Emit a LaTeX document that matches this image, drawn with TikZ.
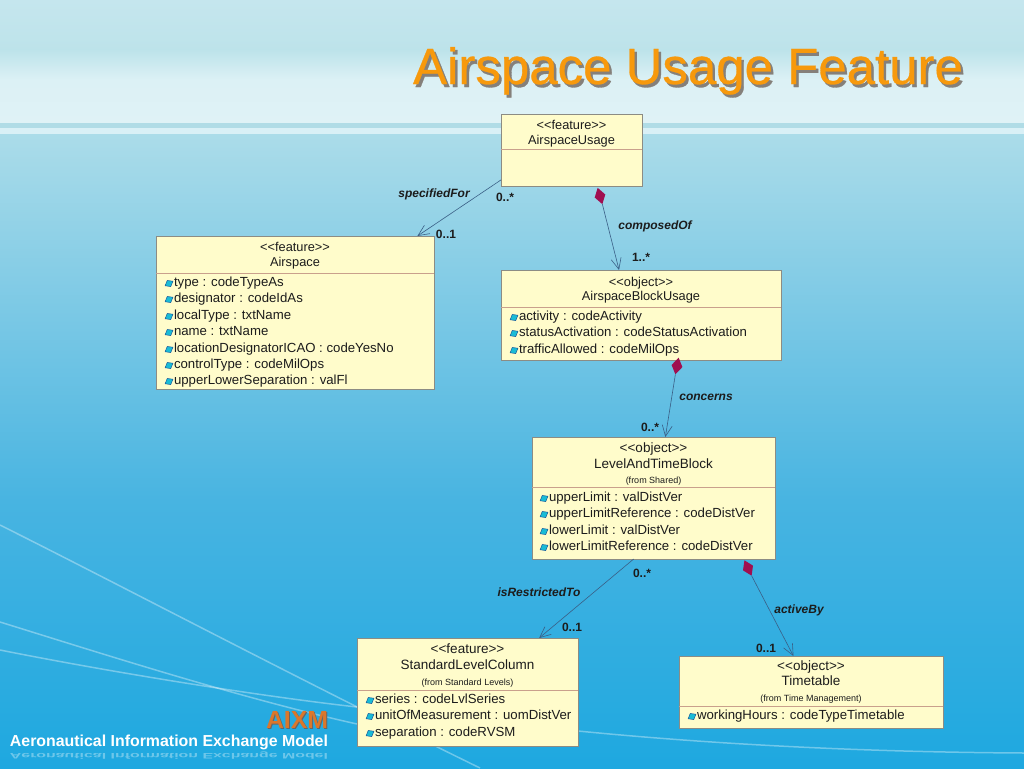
\documentclass[tikz,border=0pt]{standalone}
\usepackage{fontspec}
\setmainfont{Liberation Sans}
\usetikzlibrary{arrows.meta,shapes.geometric}
\definecolor{boxfill}{HTML}{FFFCCB}
\definecolor{boxline}{HTML}{8C8C84}
\definecolor{sepline}{HTML}{C9A08C}
\definecolor{linkline}{HTML}{3A5F86}
\definecolor{wine}{HTML}{A00F50}
\definecolor{txt}{HTML}{1C1C1C}
\definecolor{titleorange}{HTML}{F7990C}
\definecolor{titleshadow}{HTML}{85807A}
\definecolor{aixmorange}{HTML}{DB772B}
\definecolor{iconblue}{HTML}{1A5A9A}
\definecolor{iconfill}{HTML}{19BCD6}
\definecolor{skyA}{HTML}{C5E6EE}
\definecolor{skyB}{HTML}{BDE3EA}
\definecolor{skyC}{HTML}{DCF1F5}
\definecolor{skyD}{HTML}{DFF2F6}
\definecolor{bandA}{HTML}{B0DCE6}
\definecolor{bandB}{HTML}{D9F0F6}
\definecolor{seaA}{HTML}{ABDCE9}
\definecolor{seaB}{HTML}{48B4E1}
\definecolor{seaC}{HTML}{1EA8E0}
\newcommand{\sized}[1]{\fontsize{#1}{#1}\selectfont}
\begin{document}
\begin{tikzpicture}[
    x=1pt, y=-1pt,
    every node/.append style = {inner sep=0pt, outer sep=0pt, text=txt},
    class box/.style = {draw=boxline, fill=boxfill, line width=0.8pt},
    head lbl/.style = {font=\sized{12.8}, anchor=base},
    wide head/.style = {font=\sized{13.5}, anchor=base},
    from lbl/.style = {font=\sized{9}, anchor=base},
    attr lbl/.style = {font=\sized{13.2}, anchor=base west},
    attr icon/.style = {draw=iconblue, fill=iconfill, diamond, aspect=1.3, rotate=30, minimum width=9pt, minimum height=7pt, line width=0.5pt},
    sep/.style = {draw=sepline, line width=0.8pt},
    link/.style = {draw=linkline, line width=0.6pt, -{Straight Barb[length=11pt,width=10pt]}},
    whole/.style = {diamond, fill=wine, minimum width=11pt, minimum height=17pt},
    role lbl/.style = {font=\sized{12}\bfseries\itshape},
    mult lbl/.style = {font=\sized{12}\bfseries},
    title lbl/.style = {font=\sized{51}\addfontfeature{FakeBold=0.6}, anchor=base east},
    bg line/.style = {draw=white, opacity=0.35, line width=1.5pt}
]
\useasboundingbox (0,0) rectangle (1024,768);

\shade[top color=skyA, bottom color=skyB] (0,0) rectangle (1024,50);
\shade[top color=skyB, bottom color=skyC] (0,50) rectangle (1024,80);
\shade[top color=skyC, bottom color=skyD] (0,80) rectangle (1024,123);
\fill[bandA] (0,123) rectangle (1024,128);
\fill[bandB] (0,128) rectangle (1024,134);
\shade[top color=seaA, bottom color=seaB] (0,134) rectangle (1024,500);
\shade[top color=seaB, bottom color=seaC] (0,500) rectangle (1024,768);

\draw[bg line] (0,525) .. controls (120,585) and (300,680) .. (480,768);
\draw[bg line] (0,622) .. controls (100,653) and (240,698) .. (357,724);
\draw[bg line] (0,650) .. controls (100,670) and (250,695) .. (357,707);
\draw[bg line] (578,731) .. controls (700,743) and (850,752) .. (1024,753);

\node[title lbl, text=titleshadow] (title shadow) at (965.5,87) {Airspace Usage Feature};
\node[title lbl, text=titleorange] (title) at (963,84) {Airspace Usage Feature};

\node[font=\sized{24.8}\bfseries, text=black!60, anchor=base east] (aixm shadow) at (329,729) {AIXM};
\node[font=\sized{24.8}\bfseries, text=aixmorange, anchor=base east] (aixm) at (328,728) {AIXM};
\node[font=\sized{15.9}\bfseries, text=white, anchor=base east] (model) at (328,746) {Aeronautical Information Exchange Model};
\node[font=\sized{15.9}\bfseries, text=white, opacity=0.35, anchor=base east, yscale=-0.5, transform shape] (model mirror) at (328,753) {Aeronautical Information Exchange Model};

% usage
\node[class box, minimum width=141pt, minimum height=72pt] (usage) at (571.5,150) {};
\node[head lbl] (usage s) at (571.5,129) {{<}{<}feature{>}{>}};
\node[head lbl] (usage n) at (571.5,144) {AirspaceUsage};
\draw[sep] (usage.west |- 0,149) -- (usage.east |- 0,149);

% airspace
\node[class box, minimum width=278pt, minimum height=153pt] (airspace) at (295,312.5) {};
\node[head lbl] (airspace s) at (295,251) {{<}{<}feature{>}{>}};
\node[head lbl] (airspace n) at (295,266) {Airspace};
\draw[sep] (airspace.west |- 0,273) -- (airspace.east |- 0,273);
\foreach \y/\t in {282/type : codeTypeAs, 298/designator : codeIdAs, 315/localType : txtName, 331/name : txtName,
    348/locationDesignatorICAO : codeYesNo, 364/controlType : codeMilOps, 380/upperLowerSeparation : valFl}{
    \node[attr lbl] (airspace a\y) at (174,\y+4.5) {\t};
    \node[attr icon] (airspace i\y) at (169,\y+1.5) {};
}

% block usage
\node[class box, minimum width=280pt, minimum height=90pt] (block) at (641,315) {};
\node[head lbl] (block s) at (641,286) {{<}{<}object{>}{>}};
\node[head lbl] (block n) at (641,300) {AirspaceBlockUsage};
\draw[sep] (block.west |- 0,307) -- (block.east |- 0,307);
\foreach \y/\t in {316/activity : codeActivity, 332/statusActivation : codeStatusActivation, 349/trafficAllowed : codeMilOps}{
    \node[attr lbl] (block a\y) at (519,\y+4.5) {\t};
    \node[attr icon] (block i\y) at (514,\y+1.5) {};
}

% level and time
\node[class box, minimum width=243pt, minimum height=122pt] (level) at (653.5,498) {};
\node[wide head] (level s) at (653.5,452) {{<}{<}object{>}{>}};
\node[wide head] (level n) at (653.5,468) {LevelAndTimeBlock};
\node[from lbl] (level f) at (653.5,483) {(from Shared)};
\draw[sep] (level.west |- 0,487) -- (level.east |- 0,487);
\foreach \y/\t in {497/upperLimit : valDistVer, 513/upperLimitReference : codeDistVer, 530/lowerLimit : valDistVer, 546/lowerLimitReference : codeDistVer}{
    \node[attr lbl] (level a\y) at (549,\y+4.5) {\t};
    \node[attr icon] (level i\y) at (544,\y+1.5) {};
}

% column
\node[class box, minimum width=221pt, minimum height=108pt] (column) at (467.5,692) {};
\node[wide head] (column s) at (467.5,653) {{<}{<}feature{>}{>}};
\node[wide head] (column n) at (467.5,669) {StandardLevelColumn};
\node[from lbl] (column f) at (467.5,685) {(from Standard Levels)};
\draw[sep] (column.west |- 0,690) -- (column.east |- 0,690);
\foreach \y/\t in {699/series : codeLvlSeries, 715/unitOfMeasurement : uomDistVer, 732/separation : codeRVSM}{
    \node[attr lbl] (column a\y) at (375,\y+4.5) {\t};
    \node[attr icon] (column i\y) at (370,\y+1.5) {};
}

% timetable
\node[class box, minimum width=264pt, minimum height=72pt] (timetable) at (811,692) {};
\node[wide head] (timetable s) at (811,670) {{<}{<}object{>}{>}};
\node[wide head] (timetable n) at (811,685) {Timetable};
\node[from lbl] (timetable f) at (811,701) {(from Time Management)};
\draw[sep] (timetable.west |- 0,706) -- (timetable.east |- 0,706);
\node[attr lbl] (timetable a) at (697,719.5) {workingHours : codeTypeTimetable};
\node[attr icon] (timetable i) at (692,716.5) {};

% links
\node[whole, rotate=16] (usage w) at (600,196) {};
\node[whole, rotate=-11] (block w) at (677,366) {};
\node[whole, rotate=25] (level w) at (748,568) {};
\draw[link] (usage.203.7) -- (airspace.32.5);
\draw[link] (usage w.south) -- (block.116);
\draw[link] (block w.south) -- (level.79.3);
\draw[link] (level.252.5) -- (column.37.8);
\draw[link] (level w.south) -- (timetable.116.6);

\node[role lbl] (specified) at (434,194) {specifiedFor};
\node[role lbl] (composed) at (655,226) {composedOf};
\node[role lbl] (concerns) at (706,397) {concerns};
\node[role lbl] (restricted) at (539,592) {isRestrictedTo};
\node[role lbl] (active) at (799,610) {activeBy};

\node[mult lbl] (m1) at (505,197) {0..*};
\node[mult lbl] (m2) at (446,234) {0..1};
\node[mult lbl] (m3) at (641,257) {1..*};
\node[mult lbl] (m4) at (650,427) {0..*};
\node[mult lbl] (m5) at (642,573) {0..*};
\node[mult lbl] (m6) at (572,627) {0..1};
\node[mult lbl] (m7) at (766,648) {0..1};
\end{tikzpicture}
\end{document}
